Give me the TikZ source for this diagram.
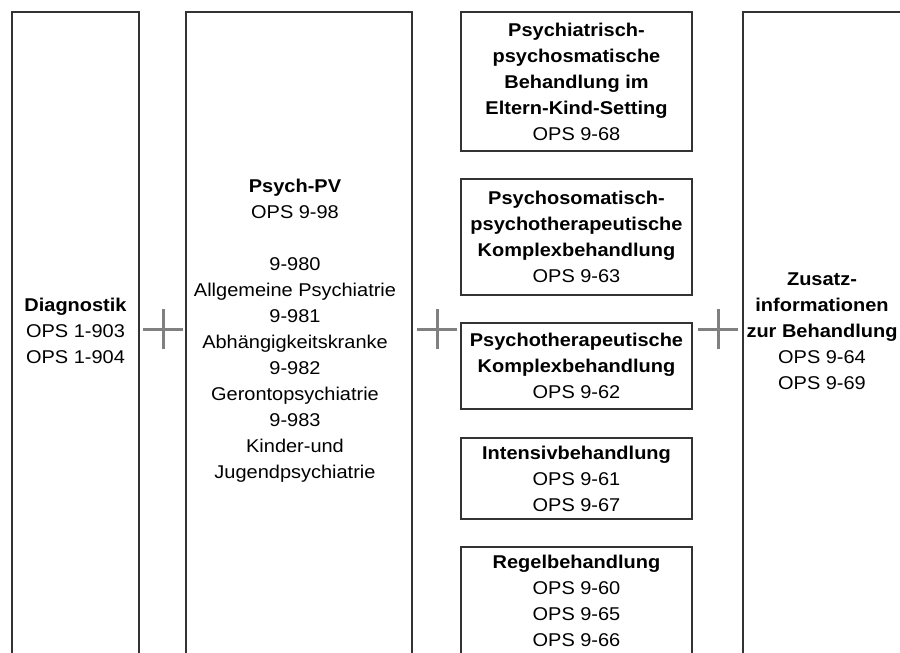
\documentclass[tikz,border=0pt]{standalone}
\usepackage{fontspec}
\setmainfont{Liberation Sans}[FakeStretch=1.08]
\definecolor{boxgray}{HTML}{333333}
\definecolor{plusgray}{HTML}{808080}
\begin{document}
\begin{tikzpicture}[x=1pt,y=-1pt,
  box/.style={draw=boxgray, line width=1.8pt, inner sep=0pt, outer sep=0pt},
  txt/.style={align=center, font=\fontsize{18.5pt}{26pt}\selectfont, text=black, inner sep=0pt},
  plus/.style={draw=plusgray, line width=3pt}]
\useasboundingbox (0,0) rectangle (900,653);
\clip (0,0) rectangle (900,653);
\fill[white] (0,0) rectangle (900,653);

% big columns
\node[box, minimum width=127pt, minimum height=680pt, anchor=north west] (diag) at (12,12) {};
\node[box, minimum width=226pt, minimum height=680pt, anchor=north west] (psych) at (186,12) {};
\node[box, minimum width=200pt, minimum height=680pt, anchor=north west] (zus) at (743,12) {};

\node[txt] (diagt) at (75.5,331) {\textbf{Diagnostik}\\OPS 1-903\\OPS 1-904};
\node[txt] (psycht) at (295,331) {\textbf{Psych-PV}\\OPS 9-98\\[26pt]9-980\\Allgemeine Psychiatrie\\9-981\\Abhängigkeitskranke\\9-982\\Gerontopsychiatrie\\9-983\\Kinder-und\\Jugendpsychiatrie};
\node[txt] (zust) at (822,331) {\textbf{Zusatz-}\\\textbf{informationen}\\\textbf{zur Behandlung}\\OPS 9-64\\OPS 9-69};

% middle column
\node[box, txt, minimum width=231pt, minimum height=139pt] (m1) at (576.5,81.5)
  {\textbf{Psychiatrisch-}\\\textbf{psychosmatische}\\\textbf{Behandlung im}\\\textbf{Eltern-Kind-Setting}\\OPS 9-68};
\node[box, txt, minimum width=231pt, minimum height=116pt] (m2) at (576.5,237)
  {\textbf{Psychosomatisch-}\\\textbf{psychotherapeutische}\\\textbf{Komplexbehandlung}\\OPS 9-63};
\node[box, txt, minimum width=231pt, minimum height=86pt] (m3) at (576.5,366)
  {\textbf{Psychotherapeutische}\\\textbf{Komplexbehandlung}\\OPS 9-62};
\node[box, txt, minimum width=231pt, minimum height=81pt] (m4) at (576.5,478.5)
  {\textbf{Intensivbehandlung}\\OPS 9-61\\OPS 9-67};
\node[box, minimum width=231pt, minimum height=140pt, anchor=north] (m5) at (576.5,547) {};
\node[txt, anchor=north] (m5t) at (576.5,555)
  {\textbf{Regelbehandlung}\\OPS 9-60\\OPS 9-65\\OPS 9-66};

% plus signs
\coordinate (p1) at (163,329);
\coordinate (p2) at (437,329);
\coordinate (p3) at (718,329);
\foreach \p in {p1,p2,p3}{
  \draw[plus] ([xshift=-20pt]\p) -- ([xshift=20pt]\p);
  \draw[plus] ([yshift=-20pt]\p) -- ([yshift=20pt]\p);
}
\end{tikzpicture}
\end{document}
